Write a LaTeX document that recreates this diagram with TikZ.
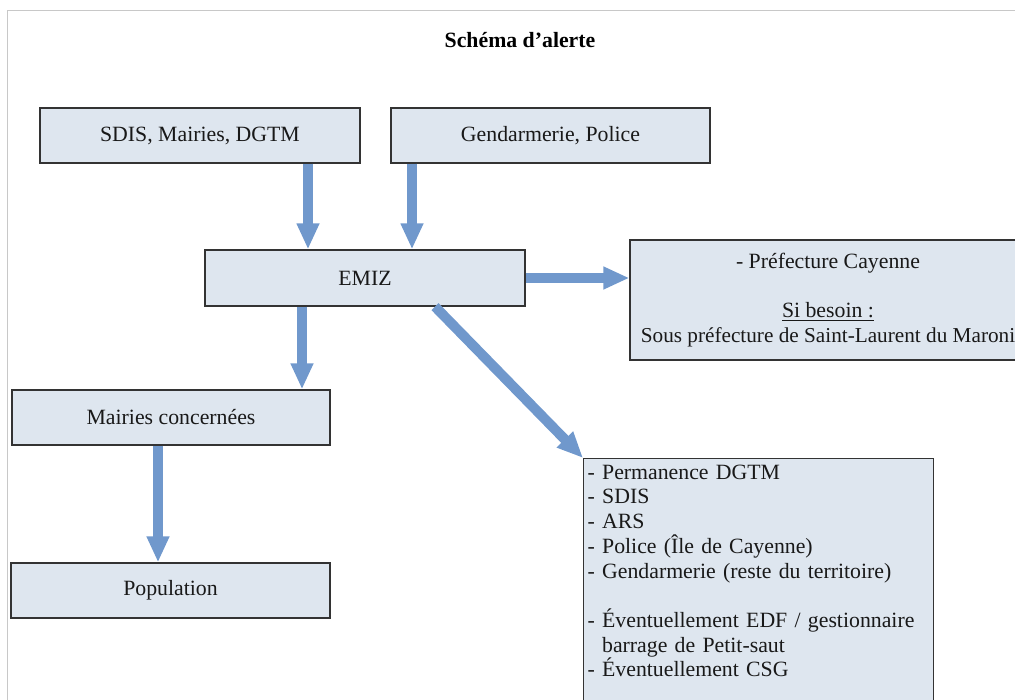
\documentclass[tikz,border=0pt]{standalone}
\usepackage{fontspec}
\setmainfont{Liberation Serif}
\usetikzlibrary{arrows.meta}

\definecolor{boxfill}{RGB}{222,230,239}
\definecolor{flowblue}{RGB}{112,152,204}
\definecolor{framegray}{RGB}{200,200,200}
\newcommand{\txtsize}{\fontsize{15.5}{17.6}\selectfont}

\begin{document}
\begin{tikzpicture}[
    box/.style={draw=black!80, line width=0.9pt, fill=boxfill, font=\txtsize, text=black!90},
    flow/.style={draw=flowblue, line width=0.25cm, -{Triangle[width=0.53cm,length=0.65cm]}}
]

    \useasboundingbox (0,0) rectangle (25.375,17.5);
    \clip (0,0) rectangle (25.375,17.5);

    % page frame
    \draw[framegray, line width=0.6pt] (0.175,0) -- (0.175,17.25) -- (25.4,17.25);

    % title
    \node[font=\txtsize\bfseries] (title) at (13.0,16.5) {Schéma d’alerte};

    % sources
    \node[box, minimum width=8cm, minimum height=1.375cm] (sdis) at (5.0,14.1125) {SDIS, Mairies, DGTM};
    \node[box, minimum width=7.975cm, minimum height=1.375cm] (gend) at (13.7625,14.1125) {Gendarmerie, Police};

    % EMIZ
    \node[box, minimum width=8cm, minimum height=1.4cm] (emiz) at (9.125,10.55) {EMIZ};

    % prefecture
    \node[box, minimum width=9.9cm, minimum height=3cm, align=center,
          font=\fontsize{15.5}{17.4}\selectfont] (pref) at (20.7,10.0)
        {- Préfecture Cayenne\\[17.4pt]\underline{Si besoin~:}\\{\fontsize{15.1}{17.4}\selectfont Sous préfecture de Saint-Laurent du Maroni}};

    % mairies and population
    \node[box, minimum width=7.95cm, minimum height=1.375cm] (mairies) at (4.275,7.0625) {Mairies concernées};
    \node[box, minimum width=7.975cm, minimum height=1.375cm] (pop) at (4.2625,2.7375) {Population};

    % services list
    \node[box, anchor=north west, text width=8.55cm, inner xsep=0.1cm, inner ysep=0.15cm, align=left] (services) at (14.575,6.05)
        {- Permanence DGTM\\
         - SDIS\\
         - ARS\\
         - Police (Île de Cayenne)\\
         - Gendarmerie (reste du territoire)\\[17.6pt]
         - Éventuellement EDF / gestionnaire\\
         \phantom{- }barrage de Petit-saut\\
         - Éventuellement CSG\\[17.6pt]
         ~\\ ~};

    % arrows
    \coordinate (a1) at ([xshift=2.7cm]sdis.south);
    \coordinate (a2) at ([xshift=-3.4625cm]gend.south);
    \coordinate (a3) at ([xshift=-1.575cm]emiz.south);
    \coordinate (a4) at ([xshift=1.75cm]emiz.south);
    \coordinate (a5) at ([xshift=-0.325cm]mairies.south);

    \draw[flow] (a1) -- (a1 |- emiz.north);
    \draw[flow] (a2) -- (a2 |- emiz.north);
    \draw[flow] (emiz.east) -- (emiz.east -| pref.west);
    \draw[flow] (a3) -- (a3 |- mairies.north);
    \draw[flow] (a4) -- (services.north west);
    \draw[flow] (a5) -- (a5 |- pop.north);

\end{tikzpicture}
\end{document}
